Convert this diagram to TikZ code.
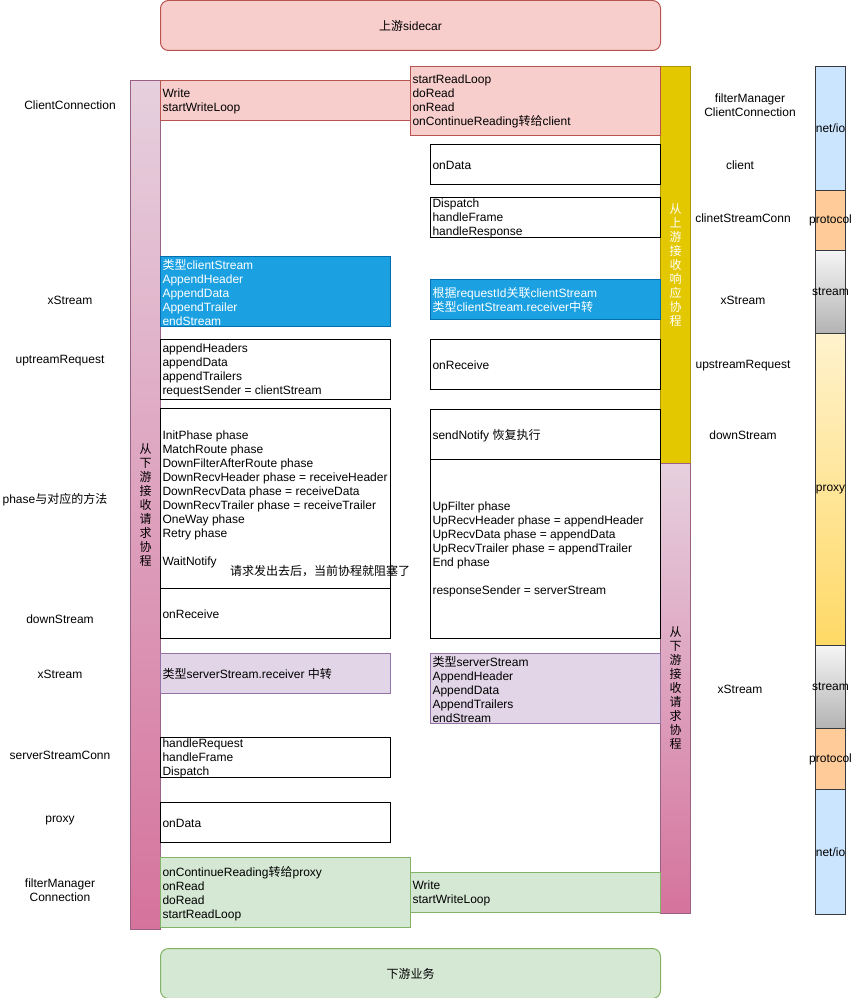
\documentclass[tikz,border=0pt]{standalone}
\usepackage{fontspec}
\setmainfont{Liberation Sans}
\newfontfamily\cjk{Noto Sans CJK SC}
\usepackage{xcolor}
\usepackage{tikz}
\usetikzlibrary{positioning}
\definecolor{sidered}{HTML}{F8CECC}
\definecolor{sideborder}{HTML}{B85450}
\definecolor{bizgreen}{HTML}{D5E8D4}
\definecolor{bizborder}{HTML}{82B366}
\definecolor{streamblue}{HTML}{1BA1E2}
\definecolor{streamborder}{HTML}{006EAF}
\definecolor{relaypurple}{HTML}{E1D5E7}
\definecolor{relayborder}{HTML}{9673A6}
\definecolor{routinetop}{HTML}{E6D0DE}
\definecolor{routinebottom}{HTML}{D5739D}
\definecolor{routineborder}{HTML}{996185}
\definecolor{respyellow}{HTML}{E3C800}
\definecolor{respborder}{HTML}{B09500}
\definecolor{layerborder}{HTML}{36393D}
\definecolor{netblue}{HTML}{CCE5FF}
\definecolor{protoorange}{HTML}{FFCC99}
\definecolor{streamtop}{HTML}{F5F5F5}
\definecolor{streambottom}{HTML}{B3B3B3}
\definecolor{proxytop}{HTML}{FFF2CC}
\definecolor{proxybottom}{HTML}{FFD966}

\tikzset{
  every node/.style={font=\fontsize{9}{10.5}\selectfont, inner sep=0pt},
  cell/.style 2 args={anchor=north west, minimum width=#1*0.75pt, minimum height=#2*0.75pt},
  celltext/.style={anchor=west, align=left, xshift=1.5pt, yshift=-0.6pt, inner sep=0pt},
  plainbox/.style={draw=black, fill=white},
  readbox/.style={draw=sideborder, fill=sidered},
  greenbox/.style={draw=bizborder, fill=bizgreen},
  bluebox/.style={draw=streamborder, fill=streamblue},
  relaybox/.style={draw=relayborder, fill=relaypurple},
  banner/.style 2 args={draw=#2, fill=#1, rounded corners=6pt, anchor=north west,
    minimum width=375pt, minimum height=37.5pt},
  routinebar/.style={draw=routineborder, top color=routinetop, bottom color=routinebottom,
    anchor=north west, minimum width=22.5pt},
  respbar/.style={draw=respborder, fill=respyellow, anchor=north west, minimum width=22.5pt},
  vlabel/.style={align=center, font=\cjk\fontsize{9}{10.5}\selectfont},
  layer/.style={draw=layerborder, anchor=north west, minimum width=22.5pt, minimum height=#1*0.75pt},
  layertext/.style={inner sep=0pt}
}

\begin{document}
\begin{tikzpicture}[x=0.75pt, y=-0.75pt, line width=0.75pt]
  \useasboundingbox (0,0) rectangle (852,998);

  % upstream / downstream
  \node[banner={sidered}{sideborder}] (upstream) at (160,0) {};
  \node at (upstream.center) {{\cjk 上游}sidecar};
  \node[banner={bizgreen}{bizborder}] (downstream) at (160,948) {};
  \node at (downstream.center) {\cjk 下游业务};

  % goroutine bars
  \node[routinebar, minimum height=849*0.75pt] (reqbar) at (130,80) {};
  \node[vlabel] at (reqbar.center) {从\\下\\游\\接\\收\\请\\求\\协\\程};
  \node[respbar, minimum height=397*0.75pt] (respbar) at (660,66) {};
  \node[vlabel, text=white] at (respbar.center) {从\\上\\游\\接\\收\\响\\应\\协\\程};
  \node[routinebar, minimum height=450*0.75pt] (reqbar2) at (660,463) {};
  \node[vlabel] at (reqbar2.center) {从\\下\\游\\接\\收\\请\\求\\协\\程};

  % upstream connection
  \node[cell={250}{40}, readbox, label={[celltext]west:{Write\\startWriteLoop}}] (clientwrite) at (160,80) {};
  \node[cell={250}{69}, readbox,
        label={[celltext]west:{startReadLoop\\doRead\\onRead\\onContinueReading{\cjk 转给}client}}]
        (clientread) at (410,66) {};
  \node[cell={230}{40}, plainbox, label={[celltext]west:onData}] (clientdata) at (430,144) {};
  \node[cell={230}{40}, plainbox, label={[celltext]west:{Dispatch\\handleFrame\\handleResponse}}]
        (clientconn) at (430,197) {};

  % streams
  \node[cell={230}{70}, bluebox,
        label={[celltext, text=white]west:{{\cjk 类型}clientStream\\AppendHeader\\AppendData\\AppendTrailer\\endStream}}]
        (clientstream) at (160,256) {};
  \node[cell={230}{40}, bluebox,
        label={[celltext, text=white]west:{{\cjk 根据}requestId{\cjk 关联}clientStream\\{\cjk 类型}clientStream.receiver{\cjk 中转}}}]
        (clientrecv) at (430,279) {};
  \node[cell={230}{60}, plainbox,
        label={[celltext]west:{appendHeaders\\appendData\\appendTrailers\\requestSender = clientStream}}]
        (upreq) at (160,339) {};
  \node[cell={230}{50}, plainbox, label={[celltext]west:onReceive}] (upreqrecv) at (430,339) {};

  % phases of both goroutines
  \node[cell={230}{180}, plainbox,
        label={[celltext]west:{InitPhase phase\\MatchRoute phase\\DownFilterAfterRoute phase\\
          DownRecvHeader phase = receiveHeader\\DownRecvData phase = receiveData\\
          DownRecvTrailer phase = receiveTrailer\\OneWay phase\\Retry phase\\[10.5pt]WaitNotify}}]
        (phases) at (160,408) {};
  \node[cell={230}{50}, plainbox, label={[celltext]west:{sendNotify {\cjk 恢复执行}}}] (notify) at (430,409) {};
  \node[cell={230}{50}, plainbox, label={[celltext]west:onReceive}] (downrecv) at (160,588) {};
  \node[cell={230}{179}, plainbox,
        label={[celltext]west:{UpFilter phase\\UpRecvHeader phase = appendHeader\\UpRecvData phase = appendData\\
          UpRecvTrailer phase = appendTrailer\\End phase\\[10.5pt]responseSender = serverStream}}]
        (upphases) at (430,459) {};
  \node (blocknote) at (320,571) {\cjk 请求发出去后，当前协程就阻塞了};

  \node[cell={230}{40}, relaybox, label={[celltext]west:{{\cjk 类型}serverStream.receiver {\cjk 中转}}}]
        (serverrelay) at (160,653) {};
  \node[cell={230}{70}, relaybox,
        label={[celltext]west:{{\cjk 类型}serverStream\\AppendHeader\\AppendData\\AppendTrailers\\endStream}}]
        (serverstream) at (430,653) {};
  \node[cell={230}{40}, plainbox, label={[celltext]west:{handleRequest\\handleFrame\\Dispatch}}]
        (serverconn) at (160,737) {};
  \node[cell={230}{40}, plainbox, label={[celltext]west:onData}] (proxydata) at (160,802) {};

  % downstream connection
  \node[cell={250}{70}, greenbox,
        label={[celltext]west:{onContinueReading{\cjk 转给}proxy\\onRead\\doRead\\startReadLoop}}]
        (serverread) at (160,857) {};
  \node[cell={250}{40}, greenbox, label={[celltext]west:{Write\\startWriteLoop}}] (serverwrite) at (410,872) {};

  % left labels
  \node (l-clientconn) at (70,105) {ClientConnection};
  \node (l-xstream) at (70,300) {xStream};
  \node (l-upreq) at (60,361) {uptreamRequest};
  \node (l-phase) at (55,500) {phase{\cjk 与对应的方法}};
  \node (l-downstream) at (60,619) {downStream};
  \node (l-xstream2) at (60,674) {xStream};
  \node (l-serverconn) at (60,755) {serverStreamConn};
  \node (l-proxy) at (60,821) {proxy};
  \node[align=center] (l-fmconn) at (60,890) {filterManager\\Connection};

  % right labels
  \node[align=center] (r-fmconn) at (750,105) {filterManager\\ClientConnection};
  \node (r-client) at (740,165) {client};
  \node (r-streamconn) at (743,218) {clinetStreamConn};
  \node (r-xstream) at (743,300) {xStream};
  \node (r-upreq) at (743,366) {upstreamRequest};
  \node (r-downstream) at (743,435) {downStream};
  \node (r-xstream2) at (740,689) {xStream};

  % layer stack
  \node[layer=124, fill=netblue, label={[layertext]center:net/io}] (netup) at (815,66) {};
  \node[layer=60, fill=protoorange, label={[layertext]center:protocol}] (protoup) at (815,190) {};
  \node[layer=83, top color=streamtop, bottom color=streambottom,
        label={[layertext]center:stream}] (streamup) at (815,250) {};
  \node[layer=312, top color=proxytop, bottom color=proxybottom,
        label={[layertext]center:proxy}] (proxylayer) at (815,333) {};
  \node[layer=83, top color=streamtop, bottom color=streambottom,
        label={[layertext]center:stream}] (streamdown) at (815,645) {};
  \node[layer=61, fill=protoorange, label={[layertext]center:protocol}] (protodown) at (815,728) {};
  \node[layer=125, fill=netblue, label={[layertext]center:net/io}] (netdown) at (815,789) {};
\end{tikzpicture}
\end{document}
